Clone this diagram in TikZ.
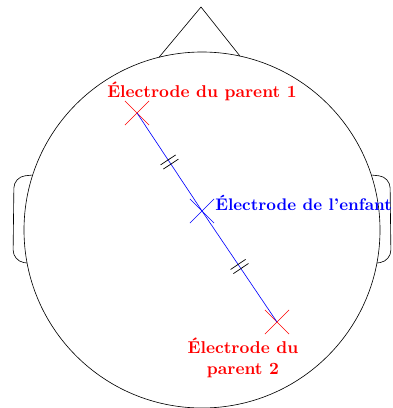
\documentclass[tikz,border=0pt]{standalone}
\usetikzlibrary{shapes.misc,calc}
\begin{document}
\begin{tikzpicture}[x=0.022472cm,y=-0.022472cm,
  outline/.style={draw=black,line width=0.4pt},
  electrode/.style={cross out,draw,inner sep=0pt,minimum size=15pt,line width=0.4pt},
  lbl/.style={font=\fontsize{10.95}{13}\selectfont\bfseries,inner sep=0pt},
  tick/.style={draw=black,line width=0.45pt}]
\useasboundingbox (0,0) rectangle (392,408);
% head, nose and ears
\draw[outline] (202,230) circle (178);
\coordinate (n1) at (159,57.3);
\coordinate (n2) at (240,56.1);
\coordinate (apex) at (201,7);
\draw[outline] (n1) -- (apex) -- (n2);
\draw[outline,rounded corners=7] (32.7,175) -- (14,177) -- (13,261) -- (27,263);
\draw[outline,rounded corners=7] (371.3,175) -- (390,177) -- (391,261) -- (377,263);
% electrodes
\node[electrode,draw=red] (p1) at (137,113) {};
\node[electrode,draw=blue] (c) at (202,211) {};
\node[electrode,draw=red] (p2) at (277,322) {};
\draw[blue,line width=0.4pt] (p1.center) -- (c.center) -- (p2.center);
% equal-distance marks
\coordinate (m1) at ($(p1.center)!0.5!(c.center)$);
\coordinate (m2) at ($(c.center)!0.5!(p2.center)$);
\foreach \m/\e in {m1/c, m2/p2} {
  \foreach \s in {-1.6pt,1.6pt} {
    \coordinate (t) at ($(\m)!\s!(\e.center)$);
    \draw[tick] ($(t)!5.8pt!90:(\e.center)$) -- ($(t)!5.8pt!-90:(\e.center)$);
  }
}
% labels
\node[lbl,text=red,anchor=base] (l1) at (202,97) {Électrode du parent 1};
\node[lbl,font=\fontsize{10.75}{13}\selectfont\bfseries,text=blue,anchor=base west] (lc) at (215,210) {Électrode de l'enfant};
\node[lbl,text=red,align=center] (l2) at (243,358) {Électrode du\\parent 2};
\end{tikzpicture}
\end{document}
